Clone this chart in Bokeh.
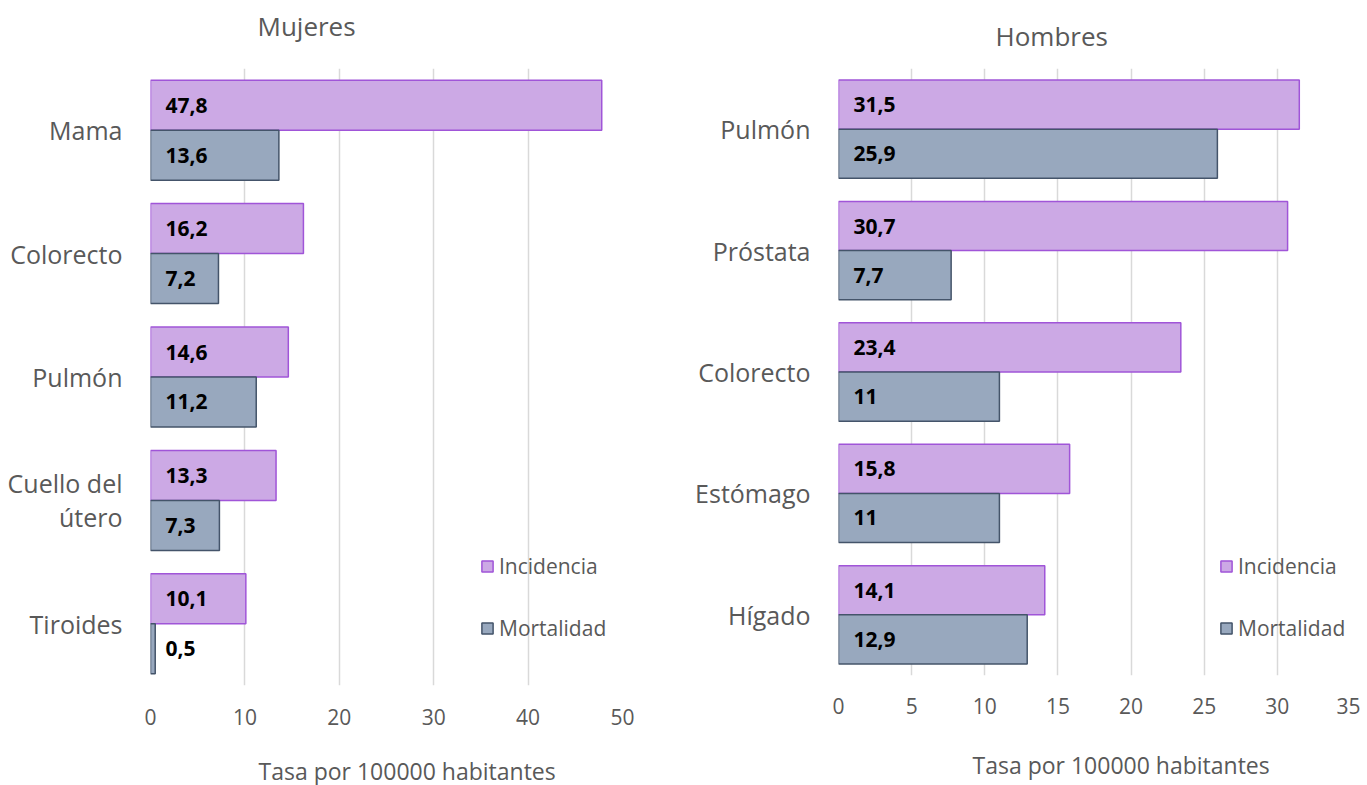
from bokeh.plotting import figure
from bokeh.layouts import row
from bokeh.models import Range1d, FactorRange, ColumnDataSource, Legend, LegendItem, Title, FixedTicker
from bokeh.transform import dodge
from bokeh.core.properties import value
from bokeh.embed import file_html
from bokeh.resources import INLINE

# ---- data ----
women_cats = ["Mama", "Colorecto", "Pulmón", "Cuello del\nútero", "Tiroides"]
women_inc = [47.8, 16.2, 14.6, 13.3, 10.1]
women_mort = [13.6, 7.2, 11.2, 7.3, 0.5]
women_ticks = [0, 10, 20, 30, 40, 50]

men_cats = ["Pulmón", "Próstata", "Colorecto", "Estómago", "Hígado"]
men_inc = [31.5, 30.7, 23.4, 15.8, 14.1]
men_mort = [25.9, 7.7, 11.0, 11.0, 12.9]
men_ticks = [0, 5, 10, 15, 20, 25, 30, 35]

series_names = ["Incidencia", "Mortalidad"]
axis_title = "Tasa por 100000 habitantes"

FONT = "Open Sans"
GRAY = "#595959"
INC_FILL, INC_LINE = "#CCA9E5", "#A055D8"
MORT_FILL, MORT_LINE = "#98A8BE", "#44546A"


def fmt(v):
    return f"{v:g}".replace(".", ",")


def spacer(standoff):
    return Title(text=" ", text_font=FONT, text_font_size="10px", standoff=standoff)


def panel(title, cats, inc, mort, ticks, frame_w, frame_h, mb_left, mb_right,
          title_off, title_standoff, top_gap, xlab_off, bottom_gap,
          tick_standoff, cat_standoff, legend_loc):
    src = ColumnDataSource(dict(cat=cats, inc=inc, mort=mort,
                                inc_lbl=[fmt(v) for v in inc],
                                mort_lbl=[fmt(v) for v in mort]))
    p = figure(title=None, y_range=FactorRange(factors=list(reversed(cats))),
               x_range=Range1d(ticks[0], ticks[-1]),
               frame_width=frame_w, frame_height=frame_h,
               min_border_left=mb_left, min_border_right=mb_right,
               min_border_top=65, min_border_bottom=10,
               output_backend="svg", toolbar_location=None,
               background_fill_color="white", border_fill_color="white")
    p.outline_line_color = None
    p.ygrid.grid_line_color = None
    p.xgrid.grid_line_color = "#D9D9D9"
    p.xgrid.grid_line_width = 1.5
    p.xaxis.ticker = FixedTicker(ticks=ticks)
    for ax in (p.xaxis[0], p.yaxis[0]):
        ax.axis_line_color = None
        ax.major_tick_line_color = None
        ax.minor_tick_line_color = None
        ax.major_label_text_color = GRAY
        ax.major_label_text_font = FONT
    p.xaxis.major_label_text_font_size = "21px"
    p.xaxis.major_label_standoff = tick_standoff
    p.yaxis.major_label_text_font_size = "25px"
    p.yaxis.major_label_standoff = cat_standoff
    p.yaxis.major_label_text_line_height = 1.0

    r1 = p.hbar(y=dodge("cat", 0.2025, range=p.y_range), left=0, right="inc", height=0.405,
                fill_color=INC_FILL, line_color=INC_LINE, line_width=1.5, source=src)
    r2 = p.hbar(y=dodge("cat", -0.2025, range=p.y_range), left=0, right="mort", height=0.405,
                fill_color=MORT_FILL, line_color=MORT_LINE, line_width=1.5, source=src)
    for col, off in (("inc_lbl", 0.2025), ("mort_lbl", -0.2025)):
        p.text(x=0, y=dodge("cat", off, range=p.y_range), text=col, source=src,
               x_offset=15, text_align="left", text_baseline="middle",
               text_font=value(FONT), text_font_style="bold", text_font_size="21px",
               text_color="black")

    leg = Legend(items=[LegendItem(label=series_names[0], renderers=[r1]),
                        LegendItem(label=series_names[1], renderers=[r2])],
                 location=legend_loc, orientation="vertical", spacing=34,
                 glyph_width=14, glyph_height=14, label_standoff=5,
                 label_text_font=FONT, label_text_font_size="21px", label_text_color=GRAY,
                 border_line_color=None, background_fill_alpha=0, padding=0, margin=0)
    p.add_layout(leg)

    # top: optional spacer next to the frame, then the panel title
    if top_gap is not None:
        p.add_layout(spacer(top_gap), "above")
    p.add_layout(Title(text=title, align="left", offset=title_off, standoff=title_standoff,
                       text_font=FONT, text_font_size="26px", text_font_style="normal",
                       text_color=GRAY), "above")
    # bottom: spacer below tick labels, then the axis title
    p.add_layout(spacer(bottom_gap), "below")
    p.add_layout(Title(text=axis_title, align="left", offset=xlab_off, standoff=0,
                       text_font=FONT, text_font_size="23px", text_font_style="normal",
                       text_color=GRAY), "below")
    return p


left = panel("Mujeres", women_cats, women_inc, women_mort, women_ticks,
             472, 617, 150, 66, 107, 8, 5, 108, 9, 17, 22, (330, 43))
right = panel("Hombres", men_cats, men_inc, men_mort, men_ticks,
              512, 607, 150, 10, 157, 29.5, None, 134, 14, 16, 22, (381, 33))

layout = row(left, right, spacing=0)
open("out.html", "w").write(file_html(layout, INLINE))
